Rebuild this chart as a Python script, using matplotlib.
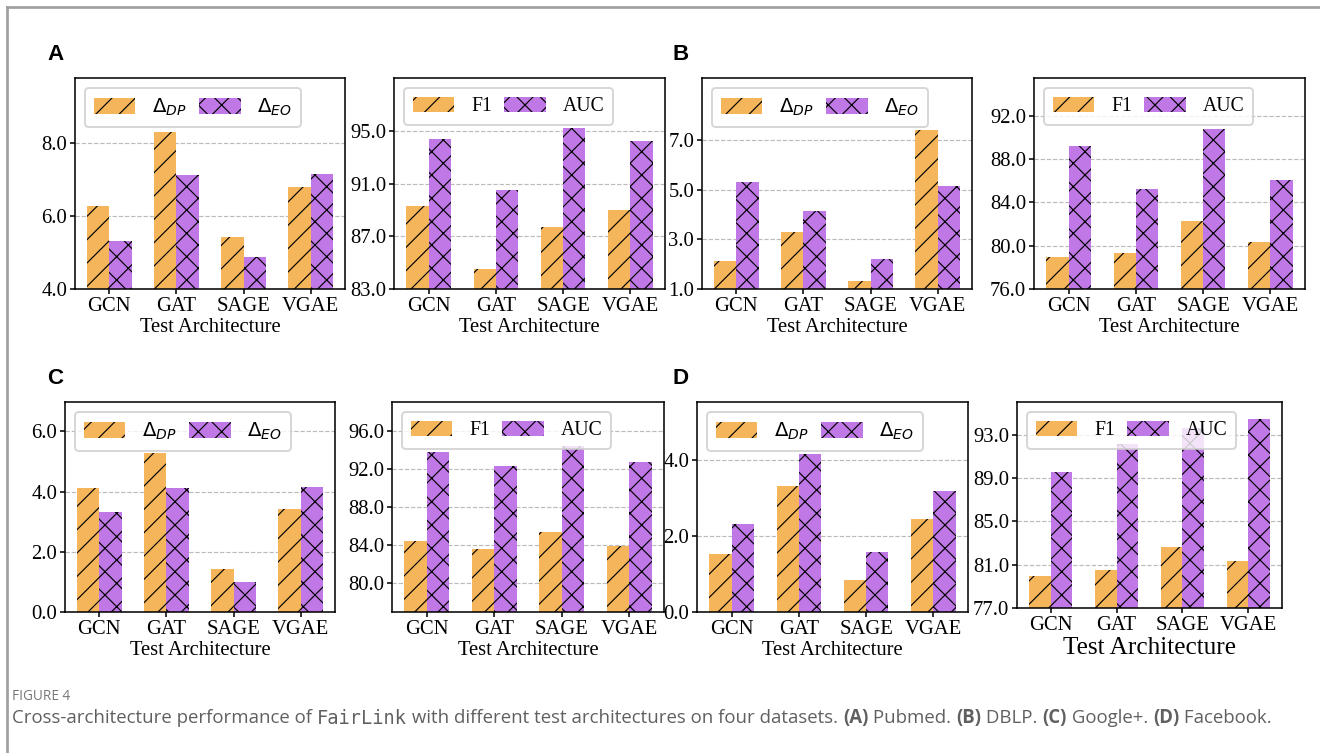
import numpy as np
import matplotlib
matplotlib.use("Agg")
import matplotlib.pyplot as plt
from matplotlib.lines import Line2D

plt.rcParams["font.family"] = ["Liberation Serif", "DejaVu Serif"]
plt.rcParams["mathtext.fontset"] = "dejavusans"
plt.rcParams["hatch.linewidth"] = 0.6

W, H, DPI = 1320, 753, 140

ORANGE = "#F5B55A"
PURPLE = "#C078E6"

archs = ["GCN", "GAT", "SAGE", "VGAE"]

# (A) Pubmed
pubmed_dp = [6.27, 8.30, 5.42, 6.80]
pubmed_eo = [5.31, 7.12, 4.88, 7.15]
pubmed_f1 = [89.32, 84.52, 87.71, 89.02]
pubmed_auc = [94.34, 90.52, 95.22, 94.24]
# (B) DBLP
dblp_dp = [2.13, 3.30, 1.32, 7.40]
dblp_eo = [5.31, 4.14, 2.21, 5.15]
dblp_f1 = [78.96, 79.36, 82.30, 80.35]
dblp_auc = [89.24, 85.26, 90.80, 86.10]
# (C) Google+
gplus_dp = [4.12, 5.27, 1.44, 3.41]
gplus_eo = [3.32, 4.12, 1.00, 4.15]
gplus_f1 = [84.44, 83.61, 85.38, 83.95]
gplus_auc = [93.73, 92.27, 94.43, 92.69]
# (D) Facebook
fb_dp = [1.53, 3.31, 0.85, 2.44]
fb_eo = [2.31, 4.15, 1.58, 3.18]
fb_f1 = [79.96, 80.50, 82.63, 81.34]
fb_auc = [89.50, 92.17, 93.63, 94.46]

fair_labels = [r"$\Delta_{DP}$", r"$\Delta_{EO}$"]
perf_labels = ["F1", "AUC"]


def add_ax(fig, x0, x1, y0, y1):
    return fig.add_axes([x0 / W, 1 - y1 / H, (x1 - x0) / W, (y1 - y0) / H])


def bar_panel(ax, first, second, labels, ylim, yticks, xlabel_size=10.6):
    x = np.arange(len(archs))
    w = 0.33
    ax.bar(x - w / 2, first, w, color=ORANGE, hatch="//", edgecolor="black",
           linewidth=0, label=labels[0])
    ax.bar(x + w / 2, second, w, color=PURPLE, hatch="xx", edgecolor="black",
           linewidth=0, label=labels[1])
    ax.set_ylim(*ylim)
    ax.set_yticks(yticks)
    ax.set_yticklabels(["%.1f" % t for t in yticks])
    ax.set_xticks(x)
    ax.set_xticklabels(archs)
    ax.tick_params(labelsize=10.6, length=2.5, pad=1.5)
    ax.set_xlabel("Test Architecture", fontsize=xlabel_size, labelpad=1)
    ax.yaxis.grid(True, linestyle="--", color="#bbbbbb", linewidth=0.6)
    ax.set_axisbelow(True)
    ax.legend(loc="upper left", ncol=2, fontsize=10.2, handlelength=2.1,
              handleheight=0.8, handletextpad=0.85, columnspacing=0.6,
              borderpad=0.45)


fig = plt.figure(figsize=(W / DPI, H / DPI), dpi=DPI)

bar_panel(add_ax(fig, 75, 345, 78, 289), pubmed_dp, pubmed_eo, fair_labels,
          (4, 9.78), [4, 6, 8])
bar_panel(add_ax(fig, 394, 665, 78, 289), pubmed_f1, pubmed_auc, perf_labels,
          (83, 99.0), [83, 87, 91, 95])
bar_panel(add_ax(fig, 702, 972, 78, 289), dblp_dp, dblp_eo, fair_labels,
          (1, 9.5), [1, 3, 5, 7])
bar_panel(add_ax(fig, 1034, 1305, 78, 289), dblp_f1, dblp_auc, perf_labels,
          (76, 95.5), [76, 80, 84, 88, 92])
bar_panel(add_ax(fig, 65, 335, 402, 612), gplus_dp, gplus_eo, fair_labels,
          (0, 6.98), [0, 2, 4, 6])
bar_panel(add_ax(fig, 392, 664, 402, 612), gplus_f1, gplus_auc, perf_labels,
          (77, 99), [80, 84, 88, 92, 96])
bar_panel(add_ax(fig, 697, 968, 402, 612), fb_dp, fb_eo, fair_labels,
          (0, 5.52), [0, 2, 4])
bar_panel(add_ax(fig, 1017, 1282, 402, 608), fb_f1, fb_auc, perf_labels,
          (77, 96), [77, 81, 85, 89, 93], xlabel_size=13)

# panel letters
for letter, px, py in [("A", 47, 55), ("B", 673, 55), ("C", 47, 378), ("D", 673, 378)]:
    fig.text(px / W, 1 - py / H, letter, fontsize=11.5, fontweight="bold",
             family="Liberation Sans", ha="left", va="center")

# page border
fig.add_artist(Line2D([7 / W, 7 / W], [0, 1 - 7 / H], color="#a0a0a0", lw=1.4))
fig.add_artist(Line2D([7 / W, 1], [1 - 7 / H, 1 - 7 / H], color="#a0a0a0", lw=1.4))

# caption
fig.text(12 / W, 1 - 696 / H, "FIGURE 4", fontsize=7, color="#777777",
         family="Open Sans", ha="left", va="center")

renderer = fig.canvas.get_renderer()
cap_parts = [
    ("Cross-architecture performance of ", {}),
    ("FairLink", {"family": "DejaVu Sans Mono"}),
    (" with different test architectures on four datasets. ", {}),
    ("(A)", {"fontweight": "bold"}),
    (" Pubmed. ", {}),
    ("(B)", {"fontweight": "bold"}),
    (" DBLP. ", {}),
    ("(C)", {"fontweight": "bold"}),
    (" Google+. ", {}),
    ("(D)", {"fontweight": "bold"}),
    (" Facebook.", {}),
]
cx = 12
for s, kw in cap_parts:
    opts = {"family": "Open Sans", "fontsize": 9.6, "color": "#606060"}
    opts.update(kw)
    t = fig.text(cx / W, 1 - 718 / H, s, ha="left", va="center", **opts)
    cx += t.get_window_extent(renderer).width

fig.savefig("out.png", dpi=DPI)
